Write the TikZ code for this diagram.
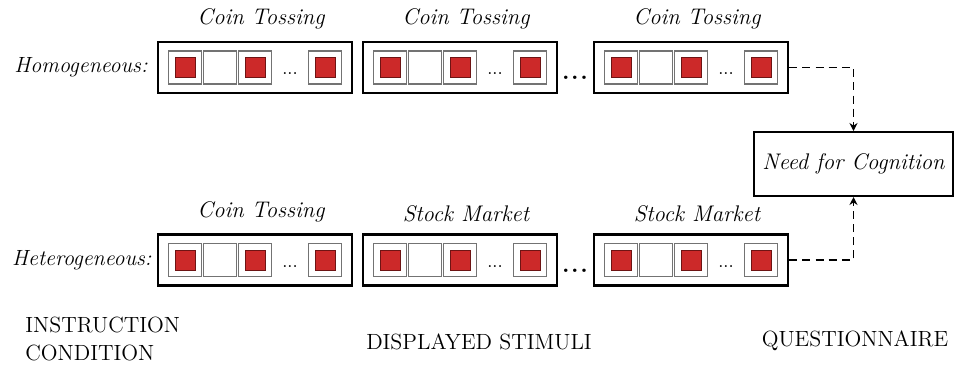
\documentclass[tikz,border=0pt]{standalone}
\usepackage{xcolor}
\usepackage{tikz}
\usetikzlibrary{arrows.meta,positioning}

\definecolor{cellred}{RGB}{204,41,41}
\definecolor{cellrim}{RGB}{110,20,20}
\definecolor{cellgray}{RGB}{115,115,115}

\tikzset{
  trialbox/.style={draw, line width=1.1pt, minimum width=97pt, minimum height=25.5pt, inner sep=0pt},
  cellbox/.style={draw=cellgray, line width=0.6pt, fill=white, minimum size=16.5pt, inner sep=0pt},
  redbox/.style={draw=cellrim, line width=0.4pt, fill=cellred, minimum size=10pt, inner sep=0pt},
  taskname/.style={font=\fontsize{11.3}{13}\selectfont\itshape, inner sep=2pt},
  rowname/.style={font=\fontsize{11}{13}\selectfont\itshape, anchor=east, inner sep=0pt},
  phase/.style={font=\fontsize{11}{13}\selectfont, inner sep=0pt},
  flow/.style={dashed, dash pattern=on 4pt off 2.6pt, line width=0.75pt, -{Stealth[length=4pt,width=4pt]}}
}

\begin{document}
\begin{tikzpicture}[x=0.5pt,y=-0.5pt]
  \useasboundingbox (0,0) rectangle (955,366);

  % the two rows of trial boxes
  \foreach \r/\y in {h/67.5, t/260} {
    \foreach \b/\x in {1/255, 2/460, 3/691} {
      \node[trialbox] (\r\b) at (\x,\y) {};
      \foreach \i/\dx in {1/-70, 3/0, 5/70} {
        \node[cellbox] (\r\b c\i) at (\x+\dx,\y) {};
        \node[redbox] (\r\b r\i) at (\x+\dx,\y) {};
      }
      \node[cellbox] (\r\b c2) at (\x-35,\y) {};
      \node[font=\small, inner sep=0pt] (\r\b d) at (\x+35,\y+6.5) {...};
    }
    \node[font=\fontsize{12}{14}\selectfont\bfseries, inner sep=0pt] (\r gap) at (575,\y+10.5) {.\kern0.8pt.\kern0.8pt.};
  }

  % task names
  \node[taskname, above=3.5pt of h1, xshift=3pt] (lh1) {Coin Tossing};
  \node[taskname, above=3.5pt of h2, xshift=3pt] (lh2) {Coin Tossing};
  \node[taskname, above=3.5pt of h3, xshift=3pt] (lh3) {Coin Tossing};
  \node[taskname, above=3.5pt of t1, xshift=3pt] (lt1) {Coin Tossing};
  \node[taskname, above=3.5pt of t2, xshift=3pt] (lt2) {Stock Market};
  \node[taskname, above=3.5pt of t3, xshift=3pt] (lt3) {Stock Market};

  % conditions
  \node[rowname] (homo) at (148,67.5) {Homogeneous:};
  \node[rowname] (hetero) at (152,260) {Heterogeneous:};

  % questionnaire
  \node[draw, line width=1pt, minimum width=99.5pt, minimum height=32pt,
        font=\fontsize{11.3}{13}\selectfont\itshape] (nfc) at (853.5,164) {Need for Cognition};
  \draw[flow] (h3.east) -| (nfc.north);
  \draw[flow] (t3.east) -| (nfc.south);

  % phases
  \node[phase, align=left, anchor=west] (instr) at (25,339) {INSTRUCTION\\[1pt]CONDITION};
  \node[phase] (stim) at (479,342) {DISPLAYED STIMULI};
  \node[phase] (quest) at (855,341) {QUESTIONNAIRE};
\end{tikzpicture}
\end{document}
